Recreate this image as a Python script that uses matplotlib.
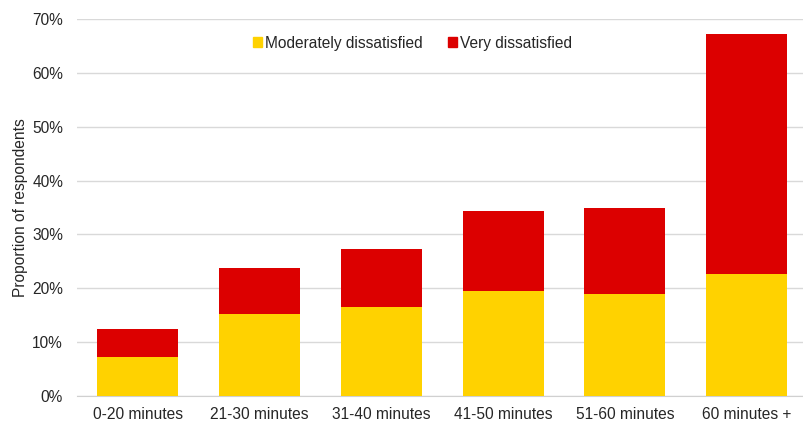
import numpy as np
import matplotlib
matplotlib.use("Agg")
import matplotlib.pyplot as plt
from matplotlib.patches import Patch
from matplotlib.ticker import PercentFormatter

# journey time bands and share of respondents dissatisfied (%)
categories = ["0-20 minutes", "21-30 minutes", "31-40 minutes", "41-50 minutes", "51-60 minutes", "60 minutes +"]
moderately = [7.2, 15.2, 16.5, 19.5, 18.9, 22.6]
very = [5.3, 8.6, 10.8, 14.8, 16.0, 44.6]

YELLOW = "#FFD200"
RED = "#DC0000"
TEXT = "#262626"

plt.rcParams["font.family"] = ["Liberation Sans", "DejaVu Sans"]
plt.rcParams["font.size"] = 11.2

fig = plt.figure(figsize=(8.04, 4.22), dpi=100)
ax = fig.add_axes([77 / 804, 0.0623, 1 - 77 / 804, 0.954 - 0.0623])

x = np.arange(len(categories))
ax.bar(x, moderately, width=0.665, color=YELLOW, zorder=3)
ax.bar(x, very, width=0.665, bottom=moderately, color=RED, zorder=3)

ax.set_xlim(-0.5, 5.47)
ax.set_ylim(0, 70)
ax.set_yticks(np.arange(0, 71, 10))
ax.yaxis.set_major_formatter(PercentFormatter(decimals=0))
ax.set_xticks(x)
ax.set_xticklabels(categories)

ax.grid(axis="y", color="#D9D9D9", linewidth=1.0, zorder=0)
for side in ["top", "right", "left"]:
  ax.spines[side].set_visible(False)
ax.spines["bottom"].set_color("#D0D0D0")
ax.tick_params(axis="both", length=0, colors=TEXT, labelsize=11.2)
ax.tick_params(axis="x", pad=8)
ax.tick_params(axis="y", pad=10)
ax.set_ylabel("Proportion of respondents", color=TEXT, fontsize=11.2)
ax.yaxis.set_label_coords(-49 / 727, 0.5)

handles = [Patch(color=YELLOW, label="Moderately dissatisfied"),
           Patch(color=RED, label="Very dissatisfied")]
fig.legend(handles=handles, loc="center", bbox_to_anchor=(0.513, 0.898), ncol=2,
           frameon=False, handlelength=0.6, handleheight=0.6, handletextpad=0.2,
           columnspacing=1.6, fontsize=11.2, labelcolor=TEXT)

fig.savefig("out.png", dpi=100)
